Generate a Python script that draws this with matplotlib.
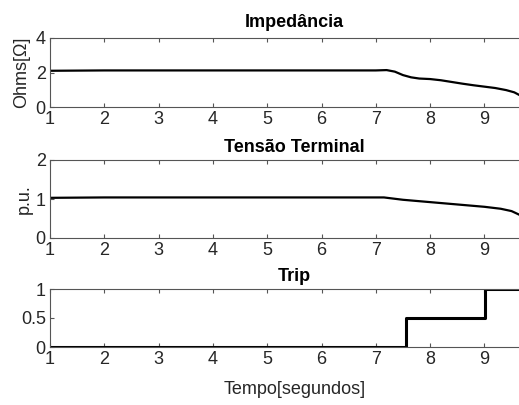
import numpy as np
import matplotlib.pyplot as plt

plt.rcParams['font.family'] = ['Liberation Sans', 'DejaVu Sans']

# impedance (ohms)
t_z = [1.0, 2.0, 3.0, 4.0, 5.0, 6.0, 7.0, 7.2, 7.35, 7.5, 7.65, 7.8, 8.0, 8.2, 8.4, 8.6, 8.8, 9.0, 9.2, 9.4, 9.55, 9.7]
z = [2.1, 2.12, 2.12, 2.12, 2.12, 2.12, 2.12, 2.14, 2.05, 1.85, 1.72, 1.65, 1.62, 1.55, 1.45, 1.35, 1.26, 1.18, 1.1, 0.98, 0.85, 0.6]

# terminal voltage (p.u.)
t_v = [1.0, 2.0, 3.0, 4.0, 5.0, 6.0, 7.0, 7.15, 7.5, 8.0, 8.5, 9.0, 9.3, 9.5, 9.7]
v = [1.03, 1.04, 1.04, 1.04, 1.04, 1.04, 1.04, 1.04, 0.98, 0.92, 0.86, 0.8, 0.75, 0.69, 0.56]

# trip signal
t_trip = [1.0, 7.55, 9.02, 9.8]
trip = [0.0, 0.5, 1.0, 1.0]

xticks = [1, 2, 3, 4, 5, 6, 7, 8, 9]

fig = plt.figure(figsize=(5.19, 4.05), dpi=100)
W, H = 519, 405
left = 50 / W
width = (9 * 54.3) / W  # axes runs past the right edge

def make_ax(top_px, bot_px):
    return fig.add_axes([left, 1 - bot_px / H, width, (bot_px - top_px) / H])

ax1 = make_ax(38, 107)
ax2 = make_ax(160, 238)
ax3 = make_ax(289, 347)

ax1.plot(t_z, z, color='black', lw=1.6)
ax2.plot(t_v, v, color='black', lw=1.6)
ax3.step(t_trip, trip, where='post', color='black', lw=2.2)

ax1.set_ylim(0, 4)
ax1.set_yticks([0, 2, 4])
ax2.set_ylim(0, 2)
ax2.set_yticks([0, 1, 2])
ax3.set_ylim(0, 1)
ax3.set_yticks([0, 0.5, 1])
ax3.set_yticklabels(['0', '0.5', '1'])

ax1.set_title('Impedância', fontsize=13, fontweight='bold', pad=8)
ax2.set_title('Tensão Terminal', fontsize=13, fontweight='bold', pad=6)
ax3.set_title('Trip', fontsize=13, fontweight='bold', pad=6)
ax1.set_ylabel('Ohms[Ω]', fontsize=13, color='#262626', labelpad=4)
ax2.set_ylabel('p.u.', fontsize=13, color='#262626', labelpad=2)
ax3.set_xlabel('Tempo[segundos]', fontsize=13, color='#262626', labelpad=9)

for ax in (ax1, ax2, ax3):
    ax.set_xlim(1, 10)
    ax.set_xticks(xticks)
    ax.tick_params(direction='in', top=True, right=False, length=3,
                   labelsize=13, labelcolor='#262626', color='#555555', pad=3)
    for s in ax.spines.values():
        s.set_color('#555555')
        s.set_linewidth(0.8)

fig.savefig('out.png', dpi=100)
